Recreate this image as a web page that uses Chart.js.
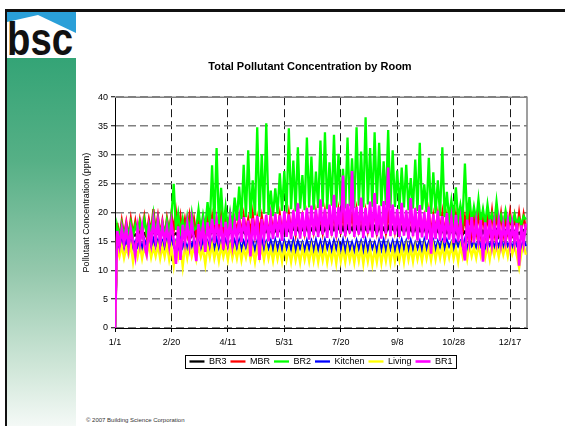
<!DOCTYPE html>
<html>
<head>
<meta charset="utf-8">
<script src="https://cdn.jsdelivr.net/npm/chart.js@4.4.0/dist/chart.umd.min.js"></script>
<style>
  html, body { margin: 0; padding: 0; background: #fff; }
  #page { position: relative; width: 565px; height: 426px; overflow: hidden; background: #fff; }
  .topline { position: absolute; left: 5px; top: 9px; width: 560px; height: 3px; background: #111; }
  .leftline { position: absolute; left: 5px; top: 9px; width: 2px; height: 417px; background: #111; }
  .bar { position: absolute; left: 7px; top: 58px; width: 69px; height: 368px;
    background: linear-gradient(to bottom, #34a476 0%, #56b086 28%, #94c8ac 58%, #cfe6d8 84%, #f4f9f6 100%); }
  .logo { position: absolute; left: 7px; top: 12px; }
  .foot { position: absolute; left: 86px; top: 417px; font: 6px "Liberation Sans", Arial, sans-serif; color: #333; white-space: nowrap; }
  #chart { position: absolute; left: 0; top: 0; }
</style>
</head>
<body>
<div id="page">
  <div class="bar"></div>
  <svg class="logo" width="69" height="46" viewBox="0 0 69 46">
    <rect x="0" y="0" width="69" height="46" fill="#2a9fd8"/>
    <polygon points="0,10 31,3 69,21 69,46 0,46" fill="#fff"/>
    <text x="0" y="43" font-family="Liberation Sans, Arial, sans-serif" font-weight="bold" font-size="47"
          textLength="66" lengthAdjust="spacingAndGlyphs" fill="#111">bsc</text>
  </svg>
  <div class="topline"></div>
  <div class="leftline"></div>
  <div class="foot">© 2007 Building Science Corporation</div>
  <canvas id="chart" width="565" height="426"></canvas>
</div>
<script>
var chartTitle = "Total Pollutant Concentration by Room";
var yTitle = "Pollutant Concentration (ppm)";
var seriesNames = ["BR3", "MBR", "BR2", "Kitchen", "Living", "BR1"];
var seriesColors = ["#000000", "#ff0000", "#00ff00", "#0000ff", "#ffff00", "#ff00ff"];
var seriesWidths = [2.3, 2.3, 2.3, 2.3, 2.3, 2.6];
var tickDays = [0, 50, 100, 150, 200, 250, 300, 350];
var tickLabels = ["1/1", "2/20", "4/11", "5/31", "7/20", "9/8", "10/28", "12/17"];

// one reading every 2 days (alternating daily highs / lows)
var days = Array.from({ length: 183 }, function (_, i) { return i * 2; });

var br3 = [
  0, 16.2, 15.7, 16.4, 15.8, 16.3, 15.6, 16.5, 15.9, 16.2, 15.7, 16.6, 15.9, 16.4, 15.8, 16.6, 15.9, 16.8,
  16.0, 16.7, 15.8, 16.5, 16.0, 16.8, 15.9, 16.6, 16.1, 16.4, 15.9, 16.7, 15.8, 16.5, 16.0, 16.8, 15.9, 16.6,
  15.9, 16.8, 16.1, 16.5, 15.9, 16.7, 16.0, 16.9, 16.2, 16.6, 16.0, 16.8, 16.1, 16.5, 15.9, 16.8, 16.2, 16.7,
  16.1, 17.0, 16.3, 16.7, 16.1, 17.1, 16.3, 16.9, 16.2, 17.2, 16.1, 16.8, 16.4, 17.0, 16.2, 17.2, 16.3, 17.0,
  16.4, 17.2, 16.3, 17.4, 16.5, 17.1, 16.4, 17.5, 16.6, 17.3, 16.3, 17.4, 16.5, 17.6, 16.4, 17.2, 16.6, 17.4,
  16.5, 17.5, 16.4, 17.3, 16.7, 17.6, 16.5, 17.4, 16.6, 17.7, 16.5, 17.5, 16.4, 17.6, 16.7, 17.4, 16.5, 17.5,
  16.6, 17.6, 16.5, 17.4, 16.7, 17.7, 16.5, 17.5, 16.4, 17.6, 16.6, 17.3, 16.5, 17.6, 16.6, 17.4, 16.7, 17.5,
  16.5, 17.4, 16.6, 17.5, 16.4, 17.3, 16.5, 17.5, 16.3, 17.2, 16.5, 17.4, 16.2, 17.1, 16.4, 17.3, 16.3, 17.0,
  16.2, 17.1, 16.0, 16.9, 16.2, 17.0, 16.1, 16.8, 15.9, 16.9, 16.2, 16.7, 16.0, 16.9, 15.9, 16.8, 16.1, 16.6,
  15.9, 16.8, 16.1, 16.5, 15.9, 16.7, 16.0, 16.9, 15.8, 16.6, 16.0, 16.8, 16.1, 16.4, 15.9, 16.7, 16.1, 16.5, 16.0, 16.8, 16.1
];
var mbr = [
  0, 18.2, 15.6, 18.6, 16.0, 18.4, 15.8, 18.9, 16.2, 18.5, 15.9, 18.7, 16.4, 19.2, 16.1, 18.8, 16.6, 20.6,
  16.8, 19.4, 16.2, 18.6, 15.9, 19.0, 16.5, 19.8, 16.9, 20.1, 16.4, 19.3, 16.0, 18.8, 16.3, 19.5, 16.7, 18.9,
  16.2, 19.6, 16.5, 18.7, 16.1, 19.1, 16.8, 19.4, 16.3, 18.9, 16.6, 19.7, 16.2, 19.0, 16.9, 19.3, 16.4, 18.8,
  16.7, 19.2, 16.3, 19.5, 16.8, 18.9, 16.5, 19.8, 16.2, 19.1, 16.9, 19.4, 16.6, 18.7, 16.4, 19.6, 16.8, 19.0,
  16.9, 19.7, 16.5, 19.2, 17.0, 19.9, 16.7, 19.4, 16.4, 20.1, 16.9, 19.3, 16.6, 19.8, 17.1, 19.5, 16.8, 20.0,
  17.0, 19.6, 16.7, 20.2, 17.2, 19.4, 16.9, 19.9, 16.6, 20.3, 17.1, 19.7, 16.8, 20.0, 17.3, 19.5, 16.9, 20.4,
  17.2, 19.8, 16.8, 20.1, 17.0, 19.6, 17.3, 20.5, 16.9, 19.9, 17.1, 20.2, 16.7, 19.7, 17.2, 20.0, 16.9, 19.5,
  16.8, 19.9, 17.1, 19.4, 16.6, 20.0, 16.9, 19.6, 16.5, 19.8, 17.0, 19.3, 16.7, 20.1, 16.4, 19.5, 16.8, 19.7,
  16.6, 19.9, 16.3, 19.4, 16.8, 20.3, 16.5, 19.6, 16.2, 19.9, 16.7, 19.2, 16.4, 19.8, 16.1, 19.5, 16.6, 20.0,
  16.5, 19.7, 16.2, 19.3, 16.7, 20.2, 16.4, 19.5, 16.9, 19.8, 16.3, 19.1, 16.6, 20.0, 16.8, 19.4, 16.5, 19.9, 16.7, 19.6, 17.0
];
var br2 = [
  0, 17.6, 15.8, 18.1, 16.0, 17.8, 16.2, 18.3, 16.1, 17.9, 16.4, 18.4, 16.3, 18.8, 16.5, 18.2, 16.7, 19.8,
  16.6, 18.9, 16.3, 18.2, 16.1, 18.7, 16.6, 19.4, 25.0, 17.0, 19.8, 16.5, 18.9, 16.4, 19.3, 16.8, 19.9, 17.0,
  17.3, 20.5, 17.0, 19.6, 17.4, 21.8, 17.6, 28.2, 17.9, 31.2, 18.0, 24.3, 17.5, 21.0, 17.3, 20.1, 17.6, 22.6,
  18.6, 24.5, 18.9, 28.3, 19.2, 30.8, 19.0, 25.6, 19.5, 34.8, 19.3, 30.1, 19.8, 35.5, 19.6, 23.8, 19.4, 24.2,
  19.8, 26.8, 20.3, 27.2, 20.1, 34.6, 20.6, 29.0, 20.2, 31.3, 20.7, 26.5, 20.4, 33.0, 20.9, 29.7, 20.5, 27.1,
  20.8, 32.5, 21.0, 33.9, 20.6, 28.7, 21.2, 33.5, 20.9, 30.2, 21.3, 27.6, 20.7, 33.0, 21.1, 29.4, 20.8, 34.8,
  21.2, 30.6, 20.9, 36.5, 21.4, 31.2, 21.0, 33.9, 21.5, 32.1, 21.1, 28.9, 21.3, 34.3, 20.8, 30.8, 21.0, 27.3,
  20.6, 27.8, 20.9, 28.3, 20.4, 26.0, 20.7, 29.2, 20.3, 32.1, 20.5, 24.9, 20.1, 29.5, 19.8, 27.0, 19.9, 25.6,
  19.4, 31.3, 19.2, 23.6, 18.9, 22.1, 19.1, 24.4, 18.8, 21.3, 18.9, 28.5, 18.6, 22.7, 18.4, 21.0, 18.6, 22.3,
  18.3, 20.6, 18.1, 21.4, 18.4, 19.8, 18.0, 21.9, 18.2, 19.6, 17.9, 20.3, 18.1, 19.2, 17.8, 19.7, 18.0, 19.0, 17.9, 19.4, 18.8
];
var kitchen = [
  0, 15.0, 14.0, 15.2, 13.9, 15.1, 14.1, 15.3, 13.9, 15.0, 14.1, 15.2, 13.8, 15.3, 14.2, 15.1, 14.0, 15.4,
  14.1, 15.2, 13.9, 15.0, 13.8, 15.3, 14.0, 15.4, 14.2, 15.1, 13.8, 15.3, 14.0, 15.0, 13.7, 15.2, 14.1, 15.3,
  13.9, 15.1, 13.7, 15.3, 14.0, 15.0, 13.8, 15.2, 13.6, 15.4, 13.9, 15.1, 13.7, 15.2, 14.0, 14.9, 13.6, 15.1,
  13.8, 15.2, 13.6, 15.0, 13.9, 15.1, 13.7, 14.9, 13.5, 15.0, 13.8, 15.3, 13.6, 14.9, 13.8, 15.1, 13.5, 15.2,
  13.7, 15.0, 13.5, 15.1, 13.8, 14.9, 13.6, 15.2, 13.4, 15.0, 13.8, 14.8, 13.5, 15.1, 13.7, 15.0, 13.4, 15.2,
  13.6, 15.0, 13.4, 15.2, 13.8, 14.9, 13.4, 15.1, 13.7, 15.0, 13.5, 15.2, 13.3, 15.0, 13.6, 14.8, 13.4, 15.1,
  13.7, 15.0, 13.4, 15.2, 13.5, 15.0, 13.8, 14.8, 13.3, 15.1, 13.6, 15.2, 13.4, 14.9, 13.7, 15.0, 13.4, 15.0,
  13.5, 15.2, 13.7, 15.0, 13.4, 15.1, 13.6, 14.8, 13.8, 15.0, 13.4, 15.2, 13.7, 14.9, 13.9, 15.1, 13.6, 15.0,
  14.0, 15.1, 13.8, 15.2, 14.1, 14.9, 13.7, 15.1, 14.2, 15.0, 13.9, 15.3, 13.8, 15.1, 14.2, 14.9, 14.0, 15.2,
  14.2, 15.3, 13.9, 15.0, 14.3, 15.2, 14.0, 15.0, 14.1, 15.4, 13.8, 15.1, 14.2, 14.9, 13.9, 15.2, 14.3, 15.0, 14.0, 15.3, 14.2
];
var living = [
  0, 13.8, 12.4, 14.2, 12.1, 13.9, 12.6, 14.4, 11.4, 14.0, 12.3, 14.3, 12.0, 14.1, 12.5, 14.5, 12.2, 14.0,
  12.4, 14.3, 12.0, 14.1, 12.3, 14.4, 11.8, 13.9, 10.8, 14.2, 12.2, 14.0, 10.6, 14.3, 12.1, 14.5, 12.4, 14.1,
  11.9, 14.2, 12.3, 13.8, 11.0, 14.1, 12.2, 14.4, 12.0, 13.9, 11.6, 14.2, 12.3, 14.0, 11.8, 14.3, 12.1, 13.9,
  12.0, 14.1, 11.7, 13.8, 12.2, 14.2, 11.9, 13.7, 11.4, 14.0, 12.1, 13.9, 11.8, 14.1, 12.0, 13.8, 11.6, 14.0,
  11.9, 13.8, 11.5, 14.0, 11.8, 13.7, 11.4, 13.9, 11.7, 13.6, 11.3, 13.9, 11.8, 13.7, 11.5, 14.0, 11.6, 13.8,
  11.4, 13.7, 11.7, 13.9, 11.3, 13.6, 11.6, 13.8, 11.2, 14.0, 11.5, 13.7, 11.4, 13.9, 11.7, 13.6, 11.3, 13.8,
  11.6, 13.9, 11.1, 13.7, 11.5, 13.8, 11.0, 13.6, 11.4, 13.9, 11.2, 13.7, 11.6, 14.0, 11.3, 13.8, 11.5, 13.7,
  11.7, 13.9, 11.4, 14.1, 11.8, 13.8, 11.5, 14.0, 11.9, 13.7, 11.6, 14.1, 12.0, 13.9, 11.7, 14.2, 11.9, 14.0,
  12.1, 14.2, 11.8, 14.0, 12.2, 14.3, 12.0, 13.9, 11.5, 14.2, 12.3, 14.1, 11.9, 14.4, 12.4, 14.0, 12.1, 14.3,
  12.5, 14.4, 12.2, 14.1, 11.9, 14.5, 12.6, 14.2, 12.3, 14.6, 12.7, 14.3, 12.4, 14.5, 12.8, 14.2, 12.5, 10.4, 12.9, 14.4, 12.7
];
var br1 = [
  0, 16.8, 14.3, 17.2, 14.6, 17.5, 13.9, 17.1, 14.8, 12.5, 17.3, 14.5, 17.6, 14.2, 12.8, 17.4, 14.7, 18.6,
  15.1, 18.4, 14.6, 17.8, 15.0, 17.4, 14.4, 18.2, 15.3, 11.1, 17.6, 11.8, 17.9, 14.8, 18.1, 14.5, 18.6, 15.2,
  11.6, 18.0, 14.9, 17.7, 13.2, 18.3, 15.1, 18.9, 14.7, 18.5, 15.4, 17.9, 13.6, 18.4, 15.0, 18.7, 14.6, 18.2,
  15.3, 18.8, 14.9, 19.2, 15.5, 18.6, 12.4, 19.0, 15.2, 19.4, 11.8, 18.9, 15.6, 19.6, 15.0, 19.1, 15.4, 19.8,
  15.7, 19.5, 15.1, 20.2, 15.8, 19.7, 15.4, 20.4, 16.0, 21.6, 15.5, 20.1, 15.9, 20.8, 15.3, 21.2, 16.1, 20.5,
  15.8, 22.3, 16.2, 20.7, 15.6, 21.4, 16.0, 23.1, 15.7, 20.9, 16.3, 26.4, 15.9, 21.5, 16.4, 27.2, 15.8, 21.0,
  16.2, 22.6, 15.6, 20.8, 16.4, 21.9, 15.7, 23.4, 16.1, 21.2, 15.5, 22.0, 16.3, 27.8, 15.9, 21.4, 16.2, 20.6,
  15.8, 21.7, 16.0, 20.4, 15.4, 22.5, 15.9, 20.8, 15.2, 21.3, 15.7, 20.1, 15.3, 21.0, 12.9, 19.7, 15.4, 20.3,
  15.1, 19.4, 14.8, 19.9, 15.3, 18.9, 14.7, 19.6, 15.0, 18.6, 14.6, 11.7, 18.8, 15.1, 19.2, 14.8, 18.4, 15.2,
  18.7, 11.5, 18.3, 14.9, 18.8, 14.6, 18.1, 15.0, 18.5, 14.7, 17.9, 15.1, 18.4, 14.5, 18.0, 14.9, 18.2, 10.8, 17.8, 14.7, 18.1
];
var seriesValues = [br3, mbr, br2, kitchen, living, br1];

Chart.defaults.font.family = "'Liberation Sans', Arial, sans-serif";
Chart.defaults.color = "#000";

// excel draws later series on top; chart.js draws lower order on top
var datasets = seriesNames.map(function (name, k) {
  return {
    label: name,
    data: seriesValues[k].map(function (v, i) { return { x: days[i], y: v }; }),
    borderColor: seriesColors[k],
    backgroundColor: seriesColors[k],
    borderWidth: seriesWidths[k],
    pointRadius: 0,
    tension: 0,
    fill: false,
    order: seriesNames.length - k,
  };
});

var framePlugin = {
  id: "frame",
  beforeDatasetsDraw: function (chart) {
    var a = chart.chartArea, c = chart.ctx;
    c.save();
    c.strokeStyle = "#808080";
    c.lineWidth = 1.5;
    c.beginPath();
    c.moveTo(a.left, a.top);
    c.lineTo(a.right, a.top);
    c.lineTo(a.right, a.bottom);
    c.stroke();
    c.restore();
  },
  afterDraw: function (chart) {
    var hb = chart.legend.legendHitBoxes;
    if (!hb || !hb.length) return;
    var l = Infinity, r = -Infinity, t = Infinity, b = -Infinity;
    hb.forEach(function (h) {
      l = Math.min(l, h.left); r = Math.max(r, h.left + h.width);
      t = Math.min(t, h.top); b = Math.max(b, h.top + h.height);
    });
    var c = chart.ctx;
    c.save();
    c.strokeStyle = "#000";
    c.lineWidth = 1;
    c.strokeRect(Math.round(l - 4) + 0.5, Math.round(t - 2) + 0.5, Math.round(r - l + 8), Math.round(b - t + 4));
    c.restore();
  },
};

new Chart(document.getElementById("chart"), {
  type: "line",
  data: { datasets: datasets },
  options: {
    responsive: false,
    animation: false,
    parsing: false,
    layout: { padding: { left: 93, right: 38, top: 60, bottom: 50 } },
    plugins: {
      title: {
        display: true,
        text: chartTitle,
        color: "#000",
        font: { size: 11, weight: "bold" },
        padding: { top: 0, bottom: 24 },
      },
      legend: {
        position: "bottom",
        fullSize: false,
        labels: {
          usePointStyle: true,
          pointStyle: "line",
          pointStyleWidth: 15,
          padding: 4,
          color: "#000",
          font: { size: 9 },
          sort: function (a, b) { return a.datasetIndex - b.datasetIndex; },
        },
      },
      tooltip: { enabled: false },
    },
    scales: {
      x: {
        type: "linear",
        min: 0,
        max: 365,
        afterBuildTicks: function (s) {
          s.ticks = tickDays.map(function (v) { return { value: v }; });
        },
        afterFit: function (s) { s.height = 25; },
        ticks: {
          autoSkip: false,
          maxRotation: 0,
          padding: 5,
          color: "#000",
          font: { size: 9 },
          callback: function (v, i) { return tickLabels[i]; },
        },
        grid: { color: "#1a1a1a", lineWidth: 1, tickLength: 4, tickColor: "#000", tickWidth: 1 },
        border: { color: "#000", width: 1, dash: [8, 4] },
      },
      y: {
        min: 0,
        max: 40,
        afterFit: function (s) { s.width = 22; },
        ticks: { stepSize: 5, padding: 3, color: "#000", font: { size: 9 } },
        grid: { color: "#808080", lineWidth: 1.5, tickLength: 4, tickColor: "#000", tickWidth: 1 },
        border: { color: "#000", width: 1, dash: [8, 4] },
        title: {
          display: true,
          text: yTitle,
          color: "#000",
          font: { size: 9 },
          padding: { top: -12, bottom: 0 },
        },
      },
    },
  },
  plugins: [framePlugin],
});
</script>
</body>
</html>
